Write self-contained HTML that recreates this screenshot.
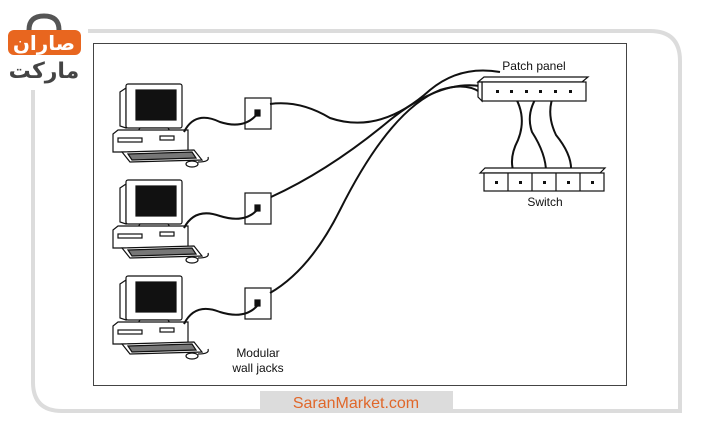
<!DOCTYPE html><html><head><style>body{margin:0;background:#fff;}svg{display:block}</style></head><body>
<svg width="710" height="442" viewBox="0 0 710 442" xmlns="http://www.w3.org/2000/svg" font-family="Liberation Sans, sans-serif">
<path d="M88 31 H650 Q680 31 680 61 V411 H62 Q33 411 33 382 V90" fill="none" stroke="#dcdcdc" stroke-width="4"/>
<rect x="93.5" y="43.5" width="533" height="342" fill="#fff" stroke="#444" stroke-width="1"/>
<rect x="260" y="391" width="193" height="22" fill="#dcdcdc"/>
<text x="356" y="408" font-size="16" fill="#e0672a" text-anchor="middle">SaranMarket.com</text>
<path d="M29 30 Q29 16 44 16 Q59 16 59 30" fill="none" stroke="#555" stroke-width="5"/>
<rect x="8" y="30" width="73" height="25" rx="6" fill="#e8661f"/>
<text x="44" y="50" font-size="20" font-weight="bold" fill="#fff" text-anchor="middle" font-family="DejaVu Sans, sans-serif">صاران</text>
<text x="44" y="78" font-size="22" font-weight="bold" fill="#444" text-anchor="middle" font-family="DejaVu Sans, sans-serif">مارکت</text>
<defs>
<g id="pc" stroke="#111" stroke-width="1.2" fill="#fff">
<path d="M120 8 L126 4 L126 44 L120 42 Z"/>
<rect x="126" y="0" width="56" height="44" rx="2"/>
<rect x="136" y="6" width="40" height="30" fill="#111"/>
<path d="M140 44 L168 44 L172 50 L136 50 Z"/>
<path d="M113 50 L118 46 L188 46 L188 68 L113 68 Z"/>
<rect x="118" y="54" width="24" height="4"/>
<rect x="160" y="52" width="14" height="4"/>
<path d="M122 68 L194 66 L202 76 L130 78 Z"/>
<path d="M128 70 L192 68 L196 74 L132 76 Z" fill="#777"/>
<ellipse cx="192" cy="80" rx="6" ry="3"/>
<path d="M198 78 Q210 78 208 73" fill="none"/>
</g>
<g id="jack" stroke="#111" stroke-width="1.2">
<rect x="0" y="0" width="26" height="31" fill="#fff"/>
<rect x="10" y="12" width="5" height="6" fill="#111"/>
</g>
</defs>
<use href="#pc" x="0" y="84"/>
<use href="#pc" x="0" y="180"/>
<use href="#pc" x="0" y="276"/>
<use href="#jack" x="245" y="98"/>
<use href="#jack" x="245" y="193"/>
<use href="#jack" x="245" y="288"/>
<g fill="none" stroke="#111" stroke-width="2">
<path d="M184 132 Q195 110 220 122 Q245 130 258 113"/>
<path d="M184 228 Q195 207 220 216 Q245 224 258 209"/>
<path d="M184 324 Q195 302 220 312 Q245 320 258 305"/>
<path d="M270 104 Q300 100 330 118 Q380 135 430 90 Q460 65 500 72"/>
<path d="M271 197 Q330 170 390 120 Q440 80 480 86"/>
<path d="M270 293 Q310 270 340 210 Q390 110 440 90 Q465 82 480 92"/>
<path d="M512 92 Q528 115 518 140 Q505 165 520 183"/>
<path d="M540 92 Q525 112 532 132 Q550 160 545 183"/>
<path d="M555 92 Q545 112 556 135 Q578 162 568 183"/>
</g>
<g stroke="#111" stroke-width="1.2" fill="#fff">
<path d="M478 82 L484 77 L588 77 L582 82 Z"/>
<rect x="482" y="82" width="104" height="19"/>
<path d="M478 82 L482 82 L482 101 L478 97 Z"/>
</g>
<g fill="#111"><rect x="496" y="90" width="3" height="3"/><rect x="510" y="90" width="3" height="3"/><rect x="525" y="90" width="3" height="3"/><rect x="539" y="90" width="3" height="3"/><rect x="554" y="90" width="3" height="3"/><rect x="569" y="90" width="3" height="3"/></g>
<g stroke="#111" stroke-width="1.2" fill="#fff">
<path d="M480 173 L485 168 L605 168 L600 173 Z"/>
<rect x="484" y="173" width="120" height="18"/>
<line x1="508" y1="173" x2="508" y2="191"/><line x1="532" y1="173" x2="532" y2="191"/><line x1="556" y1="173" x2="556" y2="191"/><line x1="580" y1="173" x2="580" y2="191"/>
</g>
<g fill="#111"><rect x="495" y="181" width="3" height="3"/><rect x="519" y="181" width="3" height="3"/><rect x="543" y="181" width="3" height="3"/><rect x="567" y="181" width="3" height="3"/><rect x="591" y="181" width="3" height="3"/></g>
<g font-size="12" fill="#111">
<text x="534" y="70" text-anchor="middle">Patch panel</text>
<text x="545" y="206" text-anchor="middle">Switch</text>
<text x="258" y="357" text-anchor="middle">Modular</text>
<text x="258" y="372" text-anchor="middle">wall jacks</text>
</g>
</svg></body></html>
